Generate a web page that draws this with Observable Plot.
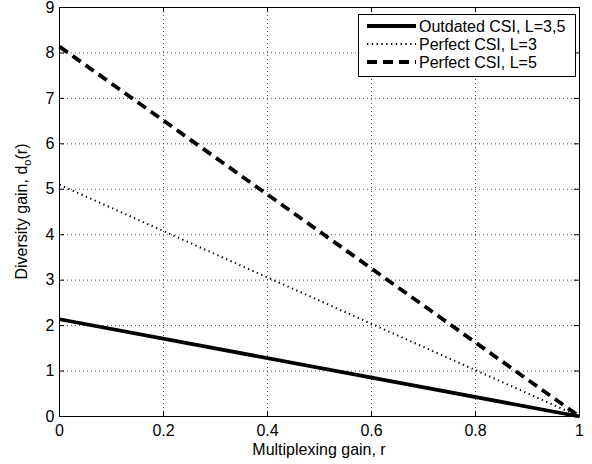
<!DOCTYPE html>
<html>
<head>
<meta charset="utf-8">
<script src="https://cdn.jsdelivr.net/npm/d3@7"></script>
<script src="https://cdn.jsdelivr.net/npm/@observablehq/plot@0.6"></script>
<style>
  html, body { margin: 0; padding: 0; background: #fff; }
  #chart { position: relative; width: 592px; height: 464px; }
</style>
</head>
<body>
<div id="chart"></div>
<script>
// Data
const rValues = [0, 1];
const outdatedCSI = [2.14, 0];
const perfectL3 = [5.1, 0];
const perfectL5 = [8.14, 0];
const seriesNames = ["Outdated CSI, L=3,5", "Perfect CSI, L=3", "Perfect CSI, L=5"];
const xTicks = [0, 0.2, 0.4, 0.6, 0.8, 1];
const yTicks = [0, 1, 2, 3, 4, 5, 6, 7, 8, 9];

const W = 592, H = 464;
const mL = 59, mR = 13, mT = 7, mB = 48;
const plotW = W - mL - mR, plotH = H - mT - mB;
const tickLen = 5;
const FONT = "Liberation Sans, Arial, Helvetica, sans-serif";
const FS = 16;

const styles = [
  {stroke: "#000", strokeWidth: 3.8},
  {stroke: "#000", strokeWidth: 2, strokeDasharray: "1.3,3.5"},
  {stroke: "#000", strokeWidth: 3.8, strokeDasharray: "10,6"}
];
const seriesVals = [outdatedCSI, perfectL3, perfectL5];
const rows = [];
seriesVals.forEach((vals, s) => rValues.forEach((r, i) => rows.push({series: seriesNames[s], r, d: vals[i]})));

const plot = Plot.plot({
  width: W, height: H,
  marginLeft: mL, marginRight: mR, marginTop: mT, marginBottom: mB,
  style: {fontFamily: FONT, fontSize: FS + "px", background: "#fff", color: "#000"},
  x: {domain: [0, 1]},
  y: {domain: [0, 9]},
  marks: [
    Plot.gridX(xTicks, {stroke: "#000", strokeOpacity: 0.7, strokeDasharray: "1,3", strokeWidth: 1}),
    Plot.gridY(yTicks, {stroke: "#000", strokeOpacity: 0.7, strokeDasharray: "1,3", strokeWidth: 1}),
    // inward ticks
    Plot.ruleX(xTicks, {insetTop: plotH - tickLen, stroke: "#000"}),
    Plot.ruleX(xTicks, {insetBottom: plotH - tickLen, stroke: "#000"}),
    Plot.ruleY(yTicks, {insetRight: plotW - tickLen, stroke: "#000"}),
    Plot.ruleY(yTicks, {insetLeft: plotW - tickLen, stroke: "#000"}),
    Plot.axisX(xTicks, {tickSize: 0, tickPadding: 8, tickFormat: d => String(d), label: null, fontSize: FS}),
    Plot.axisY(yTicks, {tickSize: 0, tickPadding: 5, tickFormat: d => String(d), label: null, fontSize: FS}),
    ...seriesNames.map((name, i) =>
      Plot.line(rows.filter(d => d.series === name), {x: "r", y: "d", ...styles[i], strokeLinecap: "butt"})
    ),
    Plot.frame({stroke: "#000", strokeWidth: 1})
  ]
});

document.getElementById("chart").appendChild(plot);

const svg = d3.select(plot);
// X label
svg.append("text")
  .attr("x", mL + plotW / 2).attr("y", 455)
  .attr("text-anchor", "middle")
  .attr("font-family", FONT).attr("font-size", FS)
  .text("Multiplexing gain, r");
// Y label with subscript
const yl = svg.append("text")
  .attr("transform", `translate(27,${mT + plotH / 2}) rotate(-90)`)
  .attr("text-anchor", "middle")
  .attr("font-family", FONT).attr("font-size", FS);
yl.append("tspan").text("Diversity gain, d");
yl.append("tspan").attr("font-size", FS * 0.7).attr("dy", 4).text("o");
yl.append("tspan").attr("dy", -4).text("(r)");

// Legend
const lg = svg.append("g");
lg.append("rect").attr("x", 358.5).attr("y", 14.5).attr("width", 217).attr("height", 62)
  .attr("fill", "#fff").attr("stroke", "#000").attr("stroke-width", 1);
seriesNames.forEach((name, i) => {
  const cy = 26 + i * 18;
  const st = styles[i];
  lg.append("line").attr("x1", 367).attr("x2", 416).attr("y1", cy).attr("y2", cy)
    .attr("stroke", st.stroke).attr("stroke-width", st.strokeWidth)
    .attr("stroke-dasharray", st.strokeDasharray || null);
  lg.append("text").attr("x", 419).attr("y", cy).attr("dy", "0.36em")
    .attr("text-anchor", "start")
    .attr("font-family", FONT).attr("font-size", FS).text(name);
});
</script>
</body>
</html>
